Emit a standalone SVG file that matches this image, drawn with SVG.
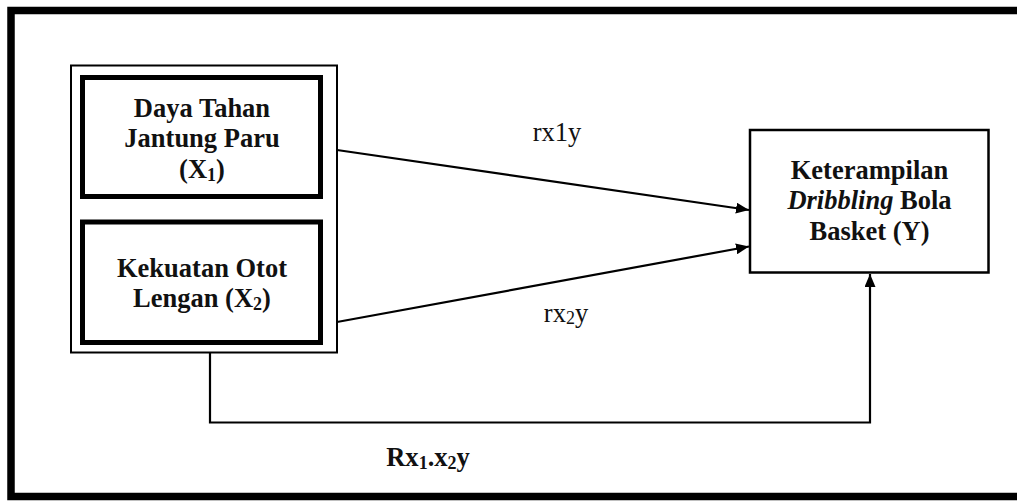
<svg xmlns="http://www.w3.org/2000/svg" width="1017" height="501" viewBox="0 0 1017 501">
<style>
.frame{fill:none;stroke:#000;stroke-width:7.5}
.group{fill:#fff;stroke:#000;stroke-width:2}
.thick{fill:#fff;stroke:#000;stroke-width:5}
.box{fill:#fff;stroke:#000;stroke-width:2.5}
.conn{fill:none;stroke:#000;stroke-width:2.2}
text{font-family:'Liberation Serif','Tinos','Times New Roman','DejaVu Serif',serif;font-size:26.5px;fill:#111;text-anchor:middle}
.b{font-weight:bold}
.sub{font-size:18px}
</style>
<defs>
<marker id="ah" viewBox="0 0 13 11" refX="13" refY="5.5" markerWidth="13" markerHeight="11" markerUnits="userSpaceOnUse" orient="auto">
<path d="M0,0 L13,5.5 L0,11 Z" fill="#000"/>
</marker>
</defs>
<rect width="1017" height="501" fill="#fff"/>
<rect class="frame" x="11" y="10.5" width="1020" height="486"/>
<g id="group-x">
<rect class="group" x="71" y="65.5" width="266" height="287"/>
</g>
<g id="node-x1">
<rect class="thick" x="82.5" y="77.5" width="238" height="119"/>
<text class="b" x="202" y="117">Daya Tahan</text>
<text class="b" x="202" y="147">Jantung Paru</text>
<text class="b" x="202" y="178">(X<tspan class="sub" dy="3">1</tspan><tspan dy="-3">)</tspan></text>
</g>
<g id="node-x2">
<rect class="thick" x="82.5" y="222" width="238" height="120.5"/>
<text class="b" x="202" y="277">Kekuatan Otot</text>
<text class="b" x="202" y="307">Lengan (X<tspan class="sub" dy="3">2</tspan><tspan dy="-3">)</tspan></text>
</g>
<g id="node-y">
<rect class="box" x="750" y="130" width="238.5" height="142.5"/>
<text class="b" x="869.5" y="179">Keterampilan</text>
<text class="b" x="869.5" y="209"><tspan font-style="italic">Dribbling</tspan> Bola</text>
<text class="b" x="869.5" y="240">Basket (Y)</text>
</g>
<g id="connectors">
<line class="conn" x1="337" y1="150" x2="749" y2="210" marker-end="url(#ah)"/>
<line class="conn" x1="337" y1="322" x2="749" y2="246.5" marker-end="url(#ah)"/>
<polyline class="conn" points="210,353 210,422.5 870,422.5 870,274" marker-end="url(#ah)"/>
</g>
<g id="labels">
<text x="557" y="141">rx1y</text>
<text x="566" y="322">rx<tspan class="sub" dy="2">2</tspan><tspan dy="-2">y</tspan></text>
<text class="b" x="428" y="466">Rx<tspan class="sub" dy="3">1</tspan><tspan dy="-3">.x</tspan><tspan class="sub" dy="3">2</tspan><tspan dy="-3">y</tspan></text>
</g>
</svg>
